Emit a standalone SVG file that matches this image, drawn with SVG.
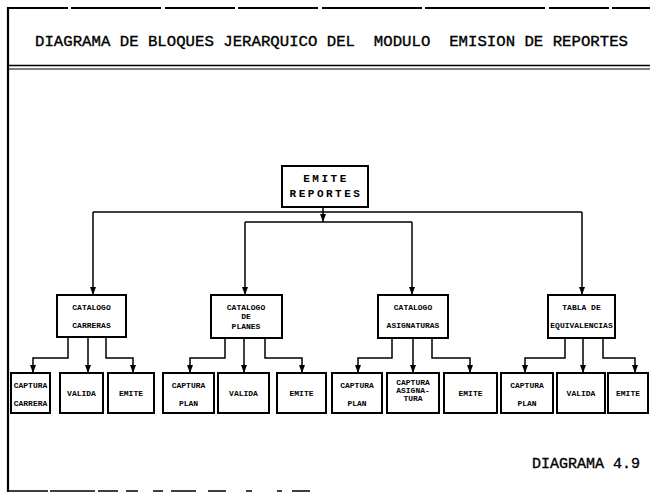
<svg xmlns="http://www.w3.org/2000/svg" width="650" height="495" viewBox="0 0 650 495">
<defs>
<marker id="arr" viewBox="0 0 6 8" refX="3" refY="8" markerWidth="6" markerHeight="8" markerUnits="userSpaceOnUse" orient="0">
<path d="M0,0 L6,0 L3,8 Z" fill="#000"/>
</marker>
<style>
.frame{stroke:#000;fill:none}
.box{fill:#fff;stroke:#000;stroke-width:2}
.con{fill:none;stroke:#000;stroke-width:1.5}
.arr{marker-end:url(#arr)}
.title{font-family:"Liberation Mono","DejaVu Sans Mono",monospace;font-size:15.5px;fill:#000;stroke:#000;stroke-width:0.35}
.lbl{font-family:"Liberation Mono","DejaVu Sans Mono",monospace;font-size:8px;font-weight:bold;fill:#000;text-anchor:middle}
.big{font-family:"Liberation Mono","DejaVu Sans Mono",monospace;font-size:11px;font-weight:bold;fill:#000;text-anchor:middle;letter-spacing:2.5px}
</style>
</defs>
<rect width="650" height="495" fill="#fff"/>
<g id="frame">
<line class="frame" x1="8" y1="8" x2="650" y2="8" stroke-width="2" stroke-dasharray="60 3 90 4 70 3 80 4 100 3 120 4"/>
<line class="frame" x1="8" y1="7" x2="8" y2="492" stroke-width="2.2"/>
<line class="frame" x1="8" y1="65.5" x2="650" y2="65.5" stroke-width="1.5"/>
<line class="frame" x1="8" y1="69" x2="650" y2="69" stroke-width="1.2"/>
<line class="frame" x1="8" y1="491" x2="310" y2="491" stroke-width="1.5" stroke-dasharray="40 2 45 3 20 8 12 15 10 8 25 12 18 20 6 25 5 10"/>
<text class="title" x="35" y="46" textLength="593" lengthAdjust="spacingAndGlyphs" xml:space="preserve">DIAGRAMA DE BLOQUES JERARQUICO DEL  MODULO  EMISION DE REPORTES</text>
<text class="title" x="532" y="468" textLength="108" lengthAdjust="spacingAndGlyphs" xml:space="preserve">DIAGRAMA 4.9</text>
</g>
<g id="connectors">
<path class="con arr" d="M323,207 V222"/>
<path class="con" d="M93,212 H582"/>
<path class="con arr" d="M93,212 V295"/>
<path class="con arr" d="M582,212 V295"/>
<path class="con" d="M245,222 H412"/>
<path class="con arr" d="M245,222 V295"/>
<path class="con arr" d="M412,222 V295"/>
<path class="con arr" d="M68,337 V358 H33 V373"/>
<path class="con arr" d="M88,337 V373"/>
<path class="con arr" d="M106,337 V358 H133 V373"/>
<path class="con arr" d="M225,338 V358 H190 V373"/>
<path class="con arr" d="M244,338 V373"/>
<path class="con arr" d="M265,338 V358 H302 V373"/>
<path class="con arr" d="M392,338 V358 H358 V373"/>
<path class="con arr" d="M413,338 V373"/>
<path class="con arr" d="M432,338 V358 H470 V373"/>
<path class="con arr" d="M565,338 V358 H525 V373"/>
<path class="con arr" d="M583,338 V373"/>
<path class="con arr" d="M603,338 V358 H635 V373"/>
</g>
<g id="emite-reportes">
<rect class="box" x="282" y="166" width="86" height="41"/>
<text class="big" x="326" y="182">EMITE</text>
<text class="big" x="326" y="197">REPORTES</text>
</g>
<g id="catalogo-carreras">
<rect class="box" x="57" y="295" width="69" height="42"/>
<text class="lbl" x="91.5" y="310">CATALOGO</text>
<text class="lbl" x="91.5" y="328">CARRERAS</text>
</g>
<g id="catalogo-planes">
<rect class="box" x="211" y="295" width="71" height="43"/>
<text class="lbl" x="246" y="310">CATALOGO</text>
<text class="lbl" x="246" y="319">DE</text>
<text class="lbl" x="246" y="329">PLANES</text>
</g>
<g id="catalogo-asignaturas">
<rect class="box" x="378" y="295" width="70" height="43"/>
<text class="lbl" x="413" y="310">CATALOGO</text>
<text class="lbl" x="413" y="328">ASIGNATURAS</text>
</g>
<g id="tabla-equivalencias">
<rect class="box" x="548" y="295" width="67" height="43"/>
<text class="lbl" x="581.5" y="310">TABLA DE</text>
<text class="lbl" x="581.5" y="328">EQUIVALENCIAS</text>
</g>
<g id="captura-carrera">
<rect class="box" x="11" y="373" width="39" height="40"/>
<text class="lbl" x="30.5" y="388">CAPTURA</text>
<text class="lbl" x="30.5" y="406">CARRERA</text>
</g>
<g id="valida-1">
<rect class="box" x="60" y="373" width="43" height="40"/>
<text class="lbl" x="81.5" y="396">VALIDA</text>
</g>
<g id="emite-1">
<rect class="box" x="108" y="373" width="46" height="40"/>
<text class="lbl" x="131" y="396">EMITE</text>
</g>
<g id="captura-plan-1">
<rect class="box" x="163" y="373" width="51" height="40"/>
<text class="lbl" x="188.5" y="388">CAPTURA</text>
<text class="lbl" x="188.5" y="406">PLAN</text>
</g>
<g id="valida-2">
<rect class="box" x="218" y="373" width="51" height="40"/>
<text class="lbl" x="243.5" y="396">VALIDA</text>
</g>
<g id="emite-2">
<rect class="box" x="277" y="373" width="49" height="40"/>
<text class="lbl" x="301.5" y="396">EMITE</text>
</g>
<g id="captura-plan-2">
<rect class="box" x="332" y="373" width="50" height="40"/>
<text class="lbl" x="357" y="388">CAPTURA</text>
<text class="lbl" x="357" y="406">PLAN</text>
</g>
<g id="captura-asignatura">
<rect class="box" x="387" y="373" width="52" height="40"/>
<text class="lbl" x="413" y="385">CAPTURA</text>
<text class="lbl" x="413" y="393">ASIGNA-</text>
<text class="lbl" x="413" y="401">TURA</text>
</g>
<g id="emite-3">
<rect class="box" x="444" y="373" width="53" height="40"/>
<text class="lbl" x="470.5" y="396">EMITE</text>
</g>
<g id="captura-plan-3">
<rect class="box" x="501" y="373" width="52" height="40"/>
<text class="lbl" x="527" y="388">CAPTURA</text>
<text class="lbl" x="527" y="406">PLAN</text>
</g>
<g id="valida-3">
<rect class="box" x="557" y="373" width="48" height="40"/>
<text class="lbl" x="581" y="396">VALIDA</text>
</g>
<g id="emite-4">
<rect class="box" x="608" y="373" width="40" height="40"/>
<text class="lbl" x="628" y="396">EMITE</text>
</g>
</svg>
